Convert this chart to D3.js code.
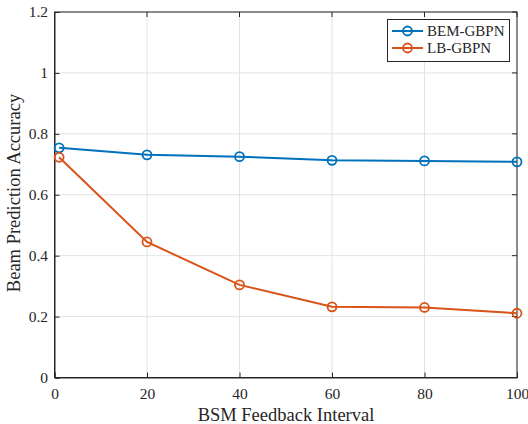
<!DOCTYPE html>
<html><head><meta charset="utf-8">
<script src="https://cdn.jsdelivr.net/npm/d3@7"></script>
<style>body{margin:0;background:#fff}svg{display:block}</style>
</head><body><svg id="c" width="528" height="424"></svg>
<script>
const xValues = [1, 20, 40, 60, 80, 100];
const bemValues = [0.754, 0.731, 0.725, 0.713, 0.711, 0.708];
const lbValues = [0.723, 0.445, 0.304, 0.232, 0.230, 0.211];
const seriesNames = ["BEM-GBPN", "LB-GBPN"];
const xTicks = [0, 20, 40, 60, 80, 100];
const yTicks = [0, 0.2, 0.4, 0.6, 0.8, 1, 1.2];
const colors = ["#0072BD", "#D95319"];
const FONT = "Liberation Serif";

const svg = d3.select("#c");
const L = 54.5, R = 517, T = 12, B = 377.5;
const x = d3.scaleLinear().domain([0, 100]).range([L, R]);
const y = d3.scaleLinear().domain([0, 1.2]).range([B, T]);

// grid
const g = svg.append("g");
g.selectAll(".gx").data(xTicks).enter().append("line")
  .attr("x1", d => x(d)).attr("x2", d => x(d)).attr("y1", T).attr("y2", B)
  .attr("stroke", "#e3e3e3").attr("stroke-width", 1);
g.selectAll(".gy").data(yTicks).enter().append("line")
  .attr("y1", d => y(d)).attr("y2", d => y(d)).attr("x1", L).attr("x2", R)
  .attr("stroke", "#e3e3e3").attr("stroke-width", 1);

// box
svg.append("rect").attr("x", L).attr("y", T).attr("width", R - L).attr("height", B - T)
  .attr("fill", "none").attr("stroke", "#262626").attr("stroke-width", 1);

// axes
const fmt = d => d3.format("~g")(d);
const xa = svg.append("g").attr("transform", `translate(0,${B})`)
  .call(d3.axisBottom(x).tickValues(xTicks).tickFormat(fmt).tickSize(-5).tickPadding(10));
const ya = svg.append("g").attr("transform", `translate(${L},0)`)
  .call(d3.axisLeft(y).tickValues(yTicks).tickFormat(fmt).tickSize(-5).tickPadding(6.5));
[xa, ya].forEach(a => {
  a.attr("font-family", FONT).attr("font-size", 15.5);
  a.select(".domain").attr("stroke", "#262626");
  a.selectAll(".tick line").attr("stroke", "#262626");
  a.selectAll(".tick text").attr("fill", "#262626");
});
// top/right ticks
svg.append("g").selectAll("line").data(xTicks).enter().append("line")
  .attr("x1", d => x(d)).attr("x2", d => x(d)).attr("y1", T).attr("y2", T + 5).attr("stroke", "#262626");
svg.append("g").selectAll("line").data(yTicks).enter().append("line")
  .attr("y1", d => y(d)).attr("y2", d => y(d)).attr("x1", R).attr("x2", R - 5).attr("stroke", "#262626");

// labels
svg.append("text").attr("x", 286).attr("y", 420.5).attr("text-anchor", "middle")
  .attr("font-family", FONT).attr("font-size", 18.5).attr("fill", "#262626").text("BSM Feedback Interval");
svg.append("text").attr("transform", `translate(20,193) rotate(-90)`).attr("text-anchor", "middle")
  .attr("font-family", FONT).attr("font-size", 18.5).attr("fill", "#262626").text("Beam Prediction Accuracy");

// series
const series = [bemValues, lbValues];
const line = d3.line().x((d, i) => x(xValues[i])).y(d => y(d));
series.forEach((vals, k) => {
  svg.append("path").datum(vals).attr("d", line).attr("fill", "none")
    .attr("stroke", colors[k]).attr("stroke-width", 2);
  svg.append("g").selectAll("circle").data(vals).enter().append("circle")
    .attr("cx", (d, i) => x(xValues[i])).attr("cy", d => y(d)).attr("r", 4.5)
    .attr("fill", "none").attr("stroke", colors[k]).attr("stroke-width", 1.8);
});

// legend
const lg = svg.append("g");
lg.append("rect").attr("x", 387.5).attr("y", 19.5).attr("width", 122).attr("height", 42)
  .attr("fill", "#fff").attr("stroke", "#262626").attr("stroke-width", 1);
seriesNames.forEach((n, k) => {
  const yy = 31 + k * 17;
  lg.append("line").attr("x1", 392).attr("x2", 423).attr("y1", yy).attr("y2", yy)
    .attr("stroke", colors[k]).attr("stroke-width", 2);
  lg.append("circle").attr("cx", 407.5).attr("cy", yy).attr("r", 4.5).attr("fill", "none")
    .attr("stroke", colors[k]).attr("stroke-width", 1.8);
  lg.append("text").attr("x", 427).attr("y", yy + 5).attr("font-family", FONT).attr("font-size", 15)
    .attr("fill", "#262626").text(n);
});
</script></body></html>
